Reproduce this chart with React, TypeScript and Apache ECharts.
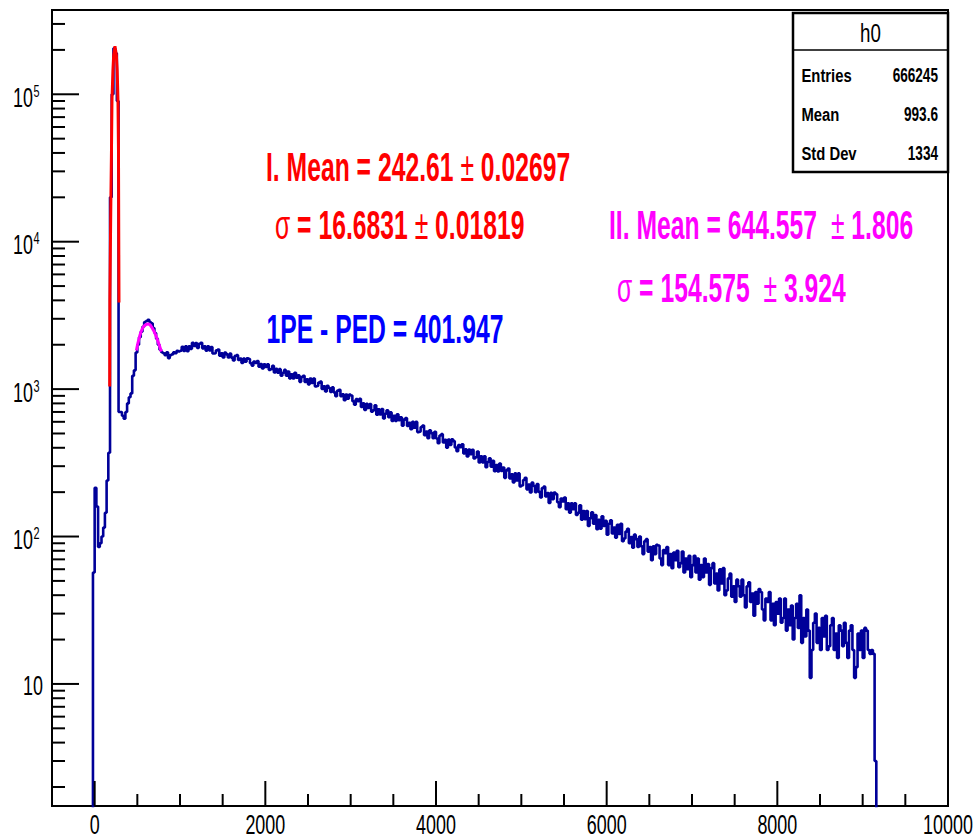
import React, { useEffect, useRef } from "react";
import * as echarts from "echarts";

const FONT = "'Liberation Sans', Arial, Helvetica, sans-serif";

const X_MIN = -500;
const X_MAX = 10000;
const Y_MIN = 1.486;
const Y_MAX = 373000;
const Y_FLOOR = 1;

const BIN_W = 20;

// bins from -20 to 1000 (pedestal + 1PE region)
const lowStart = -20;
const lowCounts = [
  57, 214, 160, 85, 90, 100, 115, 145, 240, 370,
  20000, 100000, 205000, 190000, 90000, 700, 700, 660, 630, 700,
  800, 880, 935, 1230, 1340, 1770, 2000, 2250, 2450, 2650,
  2850, 2900, 2950, 2850, 2800, 2600, 2400, 2200, 2000, 1850,
  1780, 1750, 1700, 1780, 1620, 1700, 1720, 1780, 1750, 1820,
  1800,
];

// bins from 1000 to 9160
const highStart = 1000;
const highCounts = [
  1820, 1935, 1815, 1955, 1805, 1950, 1875, 2060, 1960, 2055, 1900, 2030, 2060, 1890, 1950, 1825, 1955, 1830, 1930, 1745,
  1750, 1830, 1855, 1685, 1750, 1640, 1770, 1720, 1640, 1740, 1635, 1565, 1680, 1700, 1575, 1610, 1505, 1610, 1535, 1615,
  1598, 1499, 1444, 1540, 1506, 1552, 1418, 1478, 1379, 1475, 1413, 1472, 1351, 1367, 1440, 1297, 1371, 1293, 1366, 1231,
  1290, 1350, 1235, 1316, 1180, 1261, 1181, 1290, 1196, 1242, 1120, 1208, 1233, 1118, 1164, 1077, 1179, 1099, 1180, 1044,
  1054, 1107, 1124, 1003, 1044, 965, 1054, 1017, 956, 1027, 948, 896, 976, 990, 896, 922, 840, 920, 862, 918,
  904, 827, 783, 855, 827, 860, 756, 800, 722, 794, 745, 793, 703, 718, 777, 671, 730, 673, 733, 632,
  680, 718, 644, 695, 607, 659, 607, 676, 615, 644, 565, 621, 637, 562, 591, 535, 600, 548, 599, 511,
  516, 553, 566, 487, 516, 465, 526, 503, 464, 513, 462, 429, 484, 495, 434, 453, 400, 455, 418, 457,
  444, 402, 379, 418, 404, 422, 366, 390, 349, 389, 362, 388, 338, 345, 377, 318, 350, 318, 350, 295,
  320, 340, 298, 326, 277, 305, 276, 313, 279, 294, 250, 281, 289, 248, 264, 233, 268, 240, 268, 219,
  222, 242, 250, 209, 225, 199, 232, 220, 200, 227, 201, 184, 213, 218, 187, 197, 169, 198, 179, 199,
  194, 171, 158, 181, 173, 184, 153, 168, 145, 168, 153, 168, 140, 145, 163, 130, 149, 131, 149, 118,
  133, 146, 122, 140, 112, 130, 113, 137, 118, 128, 103, 122, 129, 105, 115, 98, 120, 104, 122, 93,
  97, 108, 113, 90, 99, 84, 103, 96, 85, 100, 86, 76, 93, 96, 79, 85, 69, 86, 76, 88,
  87, 71, 64, 81, 77, 85, 64, 76, 61, 78, 69, 80, 62, 66, 79, 57, 71, 60, 74, 53,
  64, 74, 57, 71, 51, 64, 53, 71, 57, 65, 47, 61, 66, 48, 56, 43, 60, 48, 61, 40,
  43, 52, 56, 39, 46, 36, 51, 46, 39, 51, 40, 33, 46, 49, 36, 41, 29, 42, 35, 44,
  42, 32, 27, 38, 36, 42, 27, 35, 25, 36, 30, 38, 26, 28, 38, 23, 32, 25, 34, 20,
  28, 35, 24, 40, 19, 28, 21, 32, 23, 11, 17, 26, 30, 19, 24, 17, 28, 21, 29, 17,
  18, 25, 28, 17, 22, 15, 25, 23, 18, 26, 19, 15, 23, 25, 17, 11, 13, 22, 17, 23,
  15, 24, 23, 17, 16, 17, 16, 3,
];

// fit I (pedestal gaussian) as drawn
const fit1X = [176, 178, 190, 197, 203, 214, 223, 238, 254, 264, 273, 279, 281, 285];
const fit1Y = [1040, 4000, 19200, 41900, 92000, 146000, 185000, 212000, 185000, 146000, 92000, 41900, 19200, 3870];

// fit II (1PE gaussian) as drawn
const fit2X = [489, 520, 560, 600, 625, 650, 690, 730, 781];
const fit2Y = [1830, 2200, 2580, 2740, 2760, 2720, 2500, 2200, 1800];

const xMajorTicks = [0, 2000, 4000, 6000, 8000, 10000];
const xTickLabels = ["0", "2000", "4000", "6000", "8000", "10000"];
const xMinorTicks = [500, 1000, 1500, 2500, 3000, 3500, 4500, 5000, 5500, 6500, 7000, 7500, 8500, 9000, 9500];

const yMajorTicks = [10, 100, 1000, 10000, 100000];
const yTickExp = ["", "2", "3", "4", "5"];
const yMinorTicks = [
  2, 3, 4, 5, 6, 7, 8, 9,
  20, 30, 40, 50, 60, 70, 80, 90,
  200, 300, 400, 500, 600, 700, 800, 900,
  2000, 3000, 4000, 5000, 6000, 7000, 8000, 9000,
  20000, 30000, 40000, 50000, 60000, 70000, 80000, 90000,
  200000, 300000,
];

const statsLabels = ["Entries", "Mean", "Std Dev"];
const statsValues = ["666245", "993.6", "1334"];

function buildHist() {
  const d: number[][] = [[lowStart, Y_FLOOR]];
  lowCounts.forEach((c, i) => d.push([lowStart + i * BIN_W, c]));
  highCounts.forEach((c, i) => d.push([highStart + i * BIN_W, c]));
  const end = highStart + highCounts.length * BIN_W;
  d.push([end, highCounts[highCounts.length - 1]]);
  d.push([end, Y_FLOOR]);
  return d;
}

function buildTicks() {
  const t: number[][] = [];
  xMajorTicks.forEach((v, i) => t.push([v, Y_MIN, 0, i]));
  xMinorTicks.forEach((v) => t.push([v, Y_MIN, 1, -1]));
  yMajorTicks.forEach((v, i) => t.push([X_MIN, v, 2, i]));
  yMinorTicks.forEach((v) => t.push([X_MIN, v, 3, -1]));
  return t;
}

function renderTick(params: any, api: any) {
  const kind = api.value(2);
  const idx = api.value(3);
  const stroke = { stroke: "#000", lineWidth: 2 };
  if (kind === 0 || kind === 1) {
    const p = api.coord([api.value(0), Y_MIN]);
    const len = kind === 0 ? 25 : 12;
    const children: any[] = [
      { type: "line", shape: { x1: p[0], y1: p[1], x2: p[0], y2: p[1] - len }, style: stroke },
    ];
    if (kind === 0) {
      children.push({
        type: "text",
        x: p[0],
        y: p[1] + 18,
        scaleX: 0.64,
        style: {
          text: xTickLabels[idx],
          fontSize: 28,
          fontFamily: FONT,
          fill: "#000",
          align: "center",
          verticalAlign: "middle",
        },
      });
    }
    return { type: "group", children };
  }
  const p = api.coord([X_MIN, api.value(1)]);
  const len = kind === 2 ? 27 : 13;
  const children: any[] = [
    { type: "line", shape: { x1: p[0], y1: p[1], x2: p[0] + len, y2: p[1] }, style: stroke },
  ];
  if (kind === 2) {
    const exp = yTickExp[idx];
    if (exp === "") {
      children.push({
        type: "text",
        x: p[0] - 9,
        y: p[1] + 2,
        scaleX: 0.64,
        style: { text: "10", fontSize: 28, fontFamily: FONT, fill: "#000", align: "right", verticalAlign: "middle" },
      });
    } else {
      children.push({
        type: "text",
        x: p[0] - 19,
        y: p[1] + 3,
        scaleX: 0.64,
        style: { text: "10", fontSize: 28, fontFamily: FONT, fill: "#000", align: "right", verticalAlign: "middle" },
      });
      children.push({
        type: "text",
        x: p[0] - 18.5,
        y: p[1] - 3.5,
        scaleX: 0.64,
        style: { text: exp, fontSize: 17, fontFamily: FONT, fill: "#000", align: "left", verticalAlign: "middle" },
      });
    }
  }
  return { type: "group", children };
}

function richText(x: number, y: number, text: string, color: string) {
  return {
    type: "text",
    x,
    y,
    scaleX: 0.618,
    z: 100,
    style: {
      text,
      align: "left",
      verticalAlign: "middle",
      rich: {
        b: { fontSize: 40, fontWeight: "bold", fontFamily: FONT, fill: color },
        n: { fontSize: 40, fontWeight: "normal", fontFamily: FONT, fill: color },
      },
    },
  };
}

function buildGraphic() {
  const g: any[] = [];
  g.push({
    type: "rect",
    z: 100,
    shape: { x: 793, y: 13, width: 155, height: 159 },
    style: { fill: "#fff", stroke: "#000", lineWidth: 2.5 },
  });
  g.push({
    type: "line",
    z: 101,
    shape: { x1: 793, y1: 50, x2: 948, y2: 50 },
    style: { stroke: "#000", lineWidth: 1.5 },
  });
  g.push({
    type: "text",
    z: 101,
    x: 870.5,
    y: 33,
    scaleX: 0.72,
    style: { text: "h0", fontSize: 26, fontFamily: FONT, fill: "#000", align: "center", verticalAlign: "middle" },
  });
  const rowsY = [76, 115, 154];
  statsLabels.forEach((s, i) => {
    g.push({
      type: "text",
      z: 101,
      x: 801.5,
      y: rowsY[i],
      scaleX: 0.78,
      style: { text: s, fontSize: 19, fontWeight: "bold", fontFamily: FONT, fill: "#000", align: "left", verticalAlign: "middle" },
    });
    g.push({
      type: "text",
      z: 101,
      x: 938,
      y: rowsY[i],
      scaleX: 0.68,
      style: { text: statsValues[i], fontSize: 20, fontWeight: "bold", fontFamily: FONT, fill: "#000", align: "right", verticalAlign: "middle" },
    });
  });
  g.push(richText(266, 167, "{b|I. Mean = 242.61 }{n|±}{b| 0.02697}", "#ff0000"));
  g.push(richText(275, 225, "{n|σ}{b| = 16.6831 }{n|±}{b| 0.01819}", "#ff0000"));
  g.push(richText(266.5, 329, "{b|1PE - PED = 401.947}", "#0000ff"));
  g.push(richText(609, 225, "{b|II. Mean = 644.557  }{n|±}{b| 1.806}", "#ff00ff"));
  g.push(richText(617, 288, "{n|σ}{b| = 154.575  }{n|±}{b| 3.924}", "#ff00ff"));
  return g;
}

export default function App() {
  const ref = useRef<HTMLDivElement>(null);
  useEffect(() => {
    if (!ref.current) return;
    const chart = echarts.init(ref.current, null, { renderer: "svg" });
    const option: any = {
      animation: false,
      backgroundColor: "#ffffff",
      grid: {
        left: 52,
        top: 10,
        width: 896,
        height: 796,
        show: true,
        borderColor: "#000",
        borderWidth: 2,
        backgroundColor: "transparent",
      },
      xAxis: { type: "value", min: X_MIN, max: X_MAX, show: false },
      yAxis: { type: "log", logBase: 10, min: Y_MIN, max: Y_MAX, show: false },
      series: [
        {
          type: "line",
          data: buildHist(),
          step: "end",
          showSymbol: false,
          silent: true,
          z: 2,
          lineStyle: { color: "#000099", width: 2.6 },
          itemStyle: { color: "#000099" },
        },
        {
          type: "line",
          data: fit1X.map((x, i) => [x, fit1Y[i]]),
          showSymbol: false,
          silent: true,
          z: 3,
          lineStyle: { color: "#ff0000", width: 3 },
          itemStyle: { color: "#ff0000" },
        },
        {
          type: "line",
          data: fit2X.map((x, i) => [x, fit2Y[i]]),
          showSymbol: false,
          smooth: true,
          silent: true,
          z: 3,
          lineStyle: { color: "#ff00ff", width: 3 },
          itemStyle: { color: "#ff00ff" },
        },
        {
          type: "custom",
          data: buildTicks(),
          renderItem: renderTick,
          silent: true,
          clip: false,
          z: 5,
        },
      ],
      graphic: buildGraphic(),
    };
    chart.setOption(option);
    return () => chart.dispose();
  }, []);
  return (
    <div
      ref={ref}
      style={{ position: "fixed", left: 0, top: 0, width: 977, height: 838, background: "#fff" }}
    />
  );
}
